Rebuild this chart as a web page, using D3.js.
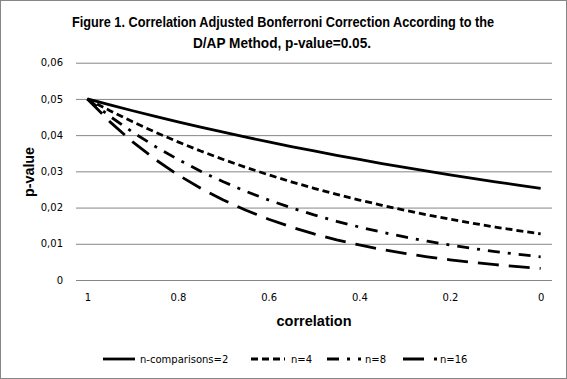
<!DOCTYPE html>
<html><head><meta charset="utf-8">
<script src="https://cdn.jsdelivr.net/npm/d3@7"></script>
<style>body{margin:0;background:#fff}svg{display:block}</style>
</head><body>
<svg id="c" width="567" height="379"></svg>
<script>
const correlations = ["1","0.95","0.9","0.85","0.8","0.75","0.7","0.65","0.6","0.55","0.5","0.45","0.4","0.35","0.3","0.25","0.2","0.15","0.1","0.05","0"];
const xTickLabels = ["1","0.8","0.6","0.4","0.2","0"];
const yTicks = [0,0.01,0.02,0.03,0.04,0.05,0.06];
const n2  = [0.0500,0.04834,0.04673,0.04518,0.04367,0.04222,0.04081,0.03945,0.03813,0.03685,0.03562,0.03443,0.03328,0.03216,0.03108,0.03004,0.02903,0.02806,0.02711,0.02620,0.02532];
const n4  = [0.0500,0.04673,0.04367,0.04081,0.03813,0.03562,0.03328,0.03108,0.02903,0.02711,0.02532,0.02365,0.02208,0.02062,0.01925,0.01797,0.01678,0.01566,0.01462,0.01365,0.01274];
const n8  = [0.0500,0.04518,0.04081,0.03685,0.03328,0.03004,0.02711,0.02447,0.02208,0.01992,0.01797,0.01621,0.01462,0.01319,0.01189,0.01073,0.00967,0.00872,0.00786,0.00709,0.00639];
const n16 = [0.0500,0.04367,0.03813,0.03328,0.02903,0.02532,0.02208,0.01925,0.01678,0.01462,0.01274,0.01110,0.00967,0.00842,0.00734,0.00639,0.00557,0.00485,0.00422,0.00368,0.00320];
const seriesNames = ["n-comparisons=2","n=4","n=8","n=16"];

const series = [
  {name: seriesNames[0], values: n2,  dash: null},
  {name: seriesNames[1], values: n4,  dash: "7,4"},
  {name: seriesNames[2], values: n8,  dash: "12,8,3,8"},
  {name: seriesNames[3], values: n16, dash: "21,10"}
];

const svg = d3.select("#c");
const L = 76, R = 552, T = 62.7, B = 280;
const x = d3.scalePoint().domain(correlations).range([L, R]).padding(0.5);
const y = d3.scaleLinear().domain([0, 0.06]).range([B, T]);

// border
svg.append("rect").attr("x",0.5).attr("y",0.5).attr("width",566).attr("height",378)
  .attr("fill","#fff").attr("stroke","#868686");

// title
const title = svg.append("g").attr("font-family","'Liberation Sans', Arial, sans-serif")
  .attr("font-weight","bold").attr("font-size",14).attr("fill","#000");
title.append("text").attr("x",283).attr("y",26.5).attr("text-anchor","middle")
  .attr("textLength",422).attr("lengthAdjust","spacingAndGlyphs")
  .text("Figure 1.  Correlation Adjusted Bonferroni Correction According to the");
title.append("text").attr("x",282).attr("y",47.5).attr("text-anchor","middle")
  .attr("textLength",178).attr("lengthAdjust","spacingAndGlyphs")
  .text("D/AP Method, p-value=0.05.");

// y gridlines + labels
const yAxis = d3.axisLeft(y).tickValues(yTicks).tickSize(-(R-L)).tickPadding(13)
  .tickFormat(d => d === 0 ? "0" : d3.format(".2f")(d).replace(".", ","));
const gy = svg.append("g").attr("transform",`translate(${L},0)`).call(yAxis);
gy.select(".domain").remove();
gy.selectAll(".tick line").attr("stroke","#868686").attr("stroke-width",1);
gy.selectAll(".tick text").attr("font-family","'DejaVu Sans', Verdana, sans-serif")
  .attr("font-size",10).attr("fill","#000");

// x labels
const xAxis = d3.axisBottom(x).tickValues(xTickLabels).tickSize(0).tickPadding(14);
const gx = svg.append("g").attr("transform",`translate(0,${B})`).call(xAxis);
gx.select(".domain").remove();
gx.selectAll(".tick text").attr("font-family","'DejaVu Sans', Verdana, sans-serif")
  .attr("font-size",10).attr("fill","#000");

// axis titles
svg.append("text").attr("x",314).attr("y",326).attr("text-anchor","middle")
  .attr("font-family","'Liberation Sans', Arial, sans-serif").attr("font-weight","bold")
  .attr("font-size",14).attr("textLength",75).attr("lengthAdjust","spacingAndGlyphs")
  .text("correlation");
svg.append("text").attr("transform","translate(34,172) rotate(-90)").attr("text-anchor","middle")
  .attr("font-family","'Liberation Sans', Arial, sans-serif").attr("font-weight","bold")
  .attr("font-size",14).attr("textLength",50).attr("lengthAdjust","spacingAndGlyphs")
  .text("p-value");

// lines
const line = d3.line().x((d,i) => x(correlations[i])).y(d => y(d));
svg.append("g").selectAll("path").data(series).join("path")
  .attr("d", d => line(d.values)).attr("fill","none").attr("stroke","#000")
  .attr("stroke-width",2.8).attr("stroke-dasharray", d => d.dash)
  .attr("stroke-linejoin","round");

// legend
const legX = [103, 251, 327, 403];
const legTextX = [140, 291, 365, 440];
const lg = svg.append("g");
series.forEach((s,i) => {
  lg.append("line").attr("x1",legX[i]).attr("x2",legX[i]+ (i===0?32:34)).attr("y1",359).attr("y2",359)
    .attr("stroke","#000").attr("stroke-width",2.8).attr("stroke-dasharray", s.dash);
  lg.append("text").attr("x",legTextX[i]).attr("y",362.5)
    .attr("font-family","'DejaVu Sans', Verdana, sans-serif").attr("font-size",10)
    .attr("fill","#000").text(s.name);
});
</script>
</body></html>
